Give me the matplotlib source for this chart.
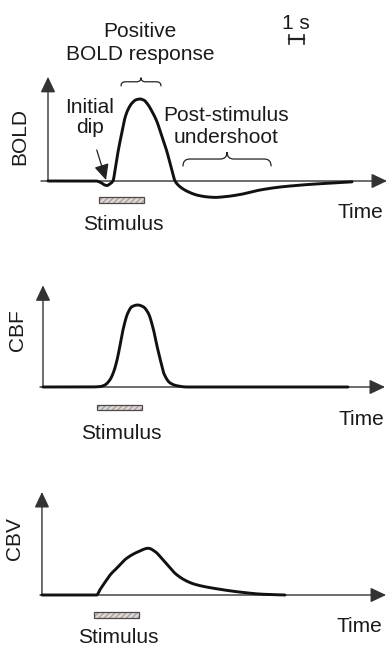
import numpy as np
import matplotlib
matplotlib.use("Agg")
import matplotlib.pyplot as plt
from matplotlib.path import Path
from matplotlib.patches import PathPatch, Rectangle

# ---- hemodynamic response sketches (time in s from stimulus onset, amplitude in a.u.) ----
bold_t = [-3.4, -1.0, -0.2, 0.13, 0.33, 0.53, 0.73, 0.93, 1.1, 1.27, 1.5, 1.73, 1.93,
          2.2, 2.47, 2.73, 3.0, 3.27, 3.53, 3.85, 4.2, 4.53, 4.8, 5.07, 5.4, 5.93,
          6.6, 7.27, 7.73, 8.47, 9.4, 10.73, 12.0, 12.93, 14.0, 15.2, 16.0, 16.87]
bold_v = [0.0, 0.0, 0.0, -0.02, -0.045, -0.055, -0.035, 0.0, 0.17, 0.357, 0.57, 0.768, 0.87,
          0.95, 0.99, 1.0, 0.985, 0.93, 0.85, 0.73, 0.54, 0.357, 0.17, 0.0, -0.07, -0.13,
          -0.175, -0.195, -0.2, -0.19, -0.165, -0.11, -0.075, -0.058, -0.042, -0.028, -0.018, -0.01]

cbf_t = [-3.6, -0.47, 0.2, 0.53, 0.87, 1.1, 1.31, 1.53, 1.75, 2.05, 2.33, 2.71, 3.07,
         3.42, 3.75, 4.0, 4.25, 4.47, 4.87, 5.33, 6.0, 16.73]
cbf_v = [0.0, 0.0, 0.005, 0.025, 0.09, 0.18, 0.31, 0.5, 0.71, 0.9, 0.98, 1.0, 0.98,
         0.9, 0.71, 0.5, 0.31, 0.16, 0.05, 0.015, 0.0, 0.0]

cbv_t = [-3.47, 0.18, 0.4, 0.73, 1.1, 1.51, 2.18, 2.95, 3.62, 4.07, 4.51, 4.93, 5.4,
         6.07, 6.73, 8.27, 9.85, 11.18, 12.73]
cbv_v = [0.0, 0.0, 0.065, 0.155, 0.25, 0.326, 0.448, 0.528, 0.57, 0.53, 0.448, 0.36, 0.265,
         0.18, 0.13, 0.073, 0.033, 0.01, 0.0]

stim_duration = 3.0
scale_bar_s = 1.0

panel_labels = ["BOLD", "CBF", "CBV"]
stim_label = "Stimulus"
time_label = "Time"

# ---- figure geometry ----
W, H = 388, 647
PX_PER_S = 15.0
PX_PER_UNIT = 82.0
FONT = "Liberation Sans"
FS = 15
CURVE = "#111111"
AXIS = "#333333"

fig = plt.figure(figsize=(W / 100, H / 100), dpi=100)
fig.patch.set_facecolor("white")


def make_axes(top, bottom, baseline_px, onset_px):
    ax = fig.add_axes([0, 1 - bottom / H, 1, (bottom - top) / H])
    ax.set_xlim(-onset_px / PX_PER_S, (W - onset_px) / PX_PER_S)
    ax.set_ylim(-(bottom - baseline_px) / PX_PER_UNIT, (baseline_px - top) / PX_PER_UNIT)
    ax.axis("off")
    return ax


def pchip(x, y, xs):
    x = np.asarray(x, float)
    y = np.asarray(y, float)
    h = np.diff(x)
    d = np.diff(y) / h
    m = np.zeros_like(y)
    m[0], m[-1] = d[0], d[-1]
    for k in range(1, len(x) - 1):
        if d[k - 1] * d[k] <= 0:
            m[k] = 0.0
        else:
            w1 = 2 * h[k] + h[k - 1]
            w2 = h[k] + 2 * h[k - 1]
            m[k] = (w1 + w2) / (w1 / d[k - 1] + w2 / d[k])
    idx = np.clip(np.searchsorted(x, xs) - 1, 0, len(x) - 2)
    hk = h[idx]
    s = (xs - x[idx]) / hk
    h00 = 2 * s**3 - 3 * s**2 + 1
    h10 = s**3 - 2 * s**2 + s
    h01 = -2 * s**3 + 3 * s**2
    h11 = s**3 - s**2
    return h00 * y[idx] + h10 * hk * m[idx] + h01 * y[idx + 1] + h11 * hk * m[idx + 1]


def draw_curve(ax, t, v):
    ts = np.linspace(t[0], t[-1], 600)
    ax.plot(ts, pchip(t, v, ts), color=CURVE, lw=2.1, solid_capstyle="round",
            solid_joinstyle="round", zorder=3)


def draw_axes_arrows(ax, y_axis_t, y_top, x_start, x_end):
    style = "-|>,head_length=0.95,head_width=0.45"
    ax.annotate("", xy=(y_axis_t, y_top), xytext=(y_axis_t, 0),
                arrowprops=dict(arrowstyle=style, mutation_scale=10, color=AXIS, lw=1.0,
                                shrinkA=0, shrinkB=0))
    ax.annotate("", xy=(x_end, 0), xytext=(x_start, 0),
                arrowprops=dict(arrowstyle=style, mutation_scale=10, color=AXIS, lw=1.0,
                                shrinkA=0, shrinkB=0))


def draw_stimulus(ax, top_v, height_v, label_v):
    ax.add_patch(Rectangle((0, top_v - height_v), stim_duration, height_v,
                           facecolor="#ded8d4", edgecolor="#a9a29e", hatch="//////",
                           lw=0, zorder=2))
    ax.add_patch(Rectangle((0, top_v - height_v), stim_duration, height_v,
                           facecolor="none", edgecolor="#4a4a4a", lw=0.9, zorder=2))
    ax.text(stim_duration / 2 + 0.15, label_v, stim_label, ha="center", va="baseline",
            fontsize=FS, family=FONT, color="#1a1a1a")


def draw_brace(ax, x0, x1, y0, h, q):
    xm = (x0 + x1) / 2
    ym = y0 + h / 2
    verts = [(x0, y0), (x0, ym), (x0 + q, ym), (xm - q, ym), (xm, ym), (xm, y0 + h),
             (xm, ym), (xm + q, ym), (x1 - q, ym), (x1, ym), (x1, y0)]
    codes = [Path.MOVETO, Path.CURVE3, Path.CURVE3, Path.LINETO, Path.CURVE3, Path.CURVE3,
             Path.CURVE3, Path.CURVE3, Path.LINETO, Path.CURVE3, Path.CURVE3]
    ax.add_patch(PathPatch(Path(verts, codes), facecolor="none", edgecolor="#222222",
                           lw=0.9, capstyle="round"))


def txt(ax, x, y, s, **kw):
    kw.setdefault("ha", "center")
    kw.setdefault("va", "baseline")
    ax.text(x, y, s, fontsize=FS, family=FONT, color="#1a1a1a", **kw)


# ---- panel 1: BOLD ----
ax1 = make_axes(0, 230, 181, 99)
draw_axes_arrows(ax1, -3.4, 1.27, -3.87, 19.2)
draw_curve(ax1, bold_t, bold_v)
draw_stimulus(ax1, -0.195, 0.073, -0.60)
txt(ax1, 17.4, -0.45, time_label)
txt(ax1, -5.29, 0.54, panel_labels[0], rotation=90, va="center")
txt(ax1, 2.73, 1.762, "Positive")
txt(ax1, 2.73, 1.476, "BOLD response")
draw_brace(ax1, 1.47, 4.13, 1.16, 0.10, 0.3)
txt(ax1, -0.6, 0.829, "Initial")
txt(ax1, -0.6, 0.585, "dip")
ax1.annotate("", xy=(0.47, 0.012), xytext=(-0.15, 0.378),
             arrowprops=dict(arrowstyle="-|>,head_length=0.95,head_width=0.45",
                             mutation_scale=10, color="#222222", lw=0.9,
                             shrinkA=0, shrinkB=0))
txt(ax1, 8.47, 0.73, "Post-stimulus")
txt(ax1, 8.47, 0.463, "undershoot")
draw_brace(ax1, 5.6, 11.47, 0.183, 0.17, 0.45)
# 1 s scale bar
sb_x0, sb_y = 12.67, 1.73
ax1.plot([sb_x0, sb_x0 + scale_bar_s], [sb_y, sb_y], color="#222222", lw=1.6)
for xe in (sb_x0, sb_x0 + scale_bar_s):
    ax1.plot([xe, xe], [sb_y - 0.055, sb_y + 0.055], color="#222222", lw=1.2)
txt(ax1, sb_x0 + scale_bar_s / 2 - 0.05, 1.854, "1 s")

# ---- panel 2: CBF ----
ax2 = make_axes(230, 430, 387, 97)
draw_axes_arrows(ax2, -3.6, 1.24, -3.8, 19.2)
draw_curve(ax2, cbf_t, cbf_v)
draw_stimulus(ax2, -0.22, 0.06, -0.634)
txt(ax2, 17.63, -0.463, time_label)
txt(ax2, -5.33, 0.695, panel_labels[1], rotation=90, va="center")

# ---- panel 3: CBV ----
ax3 = make_axes(430, 647, 595, 94)
draw_axes_arrows(ax3, -3.47, 1.256, -3.6, 19.47)
draw_curve(ax3, cbv_t, cbv_v)
draw_stimulus(ax3, -0.207, 0.073, -0.585)
txt(ax3, 17.7, -0.447, time_label)
txt(ax3, -5.27, 0.683, panel_labels[2], rotation=90, va="center")

fig.savefig("out.png", dpi=100, facecolor="white")
